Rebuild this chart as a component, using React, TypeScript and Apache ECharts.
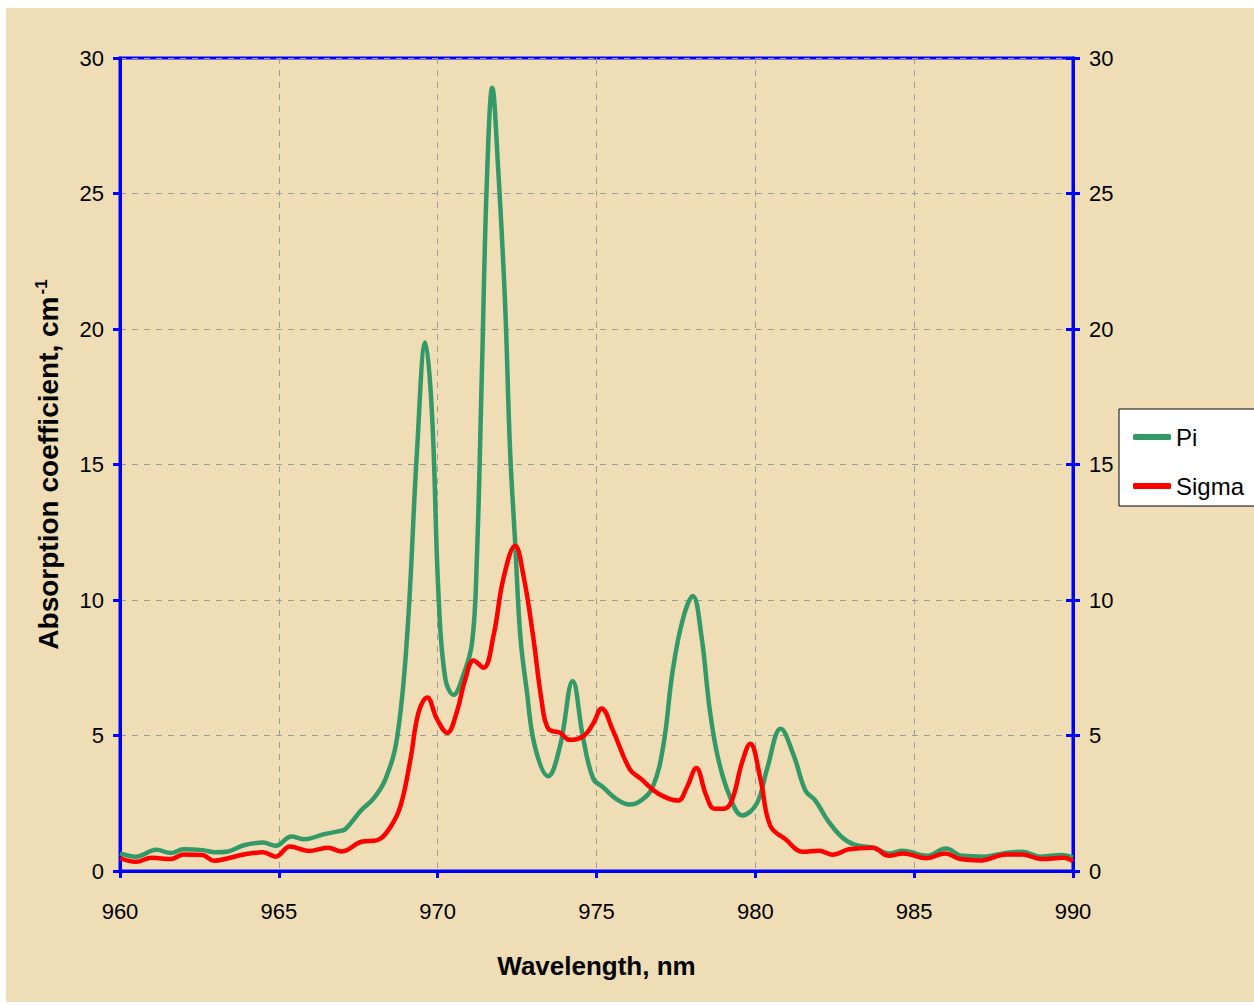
import React, { useEffect, useRef } from "react";
import * as echarts from "echarts";

const piWavelength = [
  960.0, 960.5, 961.15, 961.6, 962.0, 962.6, 963.0, 963.4, 963.9, 964.5, 964.9, 965.4, 965.8, 966.4, 966.9,
  967.1, 967.6, 968.0, 968.36, 968.72, 969.04, 969.35, 969.61, 969.82, 970.03, 970.24, 970.5, 970.8, 971.08,
  971.23, 971.39, 971.55, 971.72, 971.9, 972.12, 972.28, 972.44, 972.6, 972.8, 973.06, 973.48, 973.85, 974.25,
  974.58, 974.9, 975.2, 975.63, 976.05, 976.4, 976.77, 977.1, 977.4, 977.72, 978.03, 978.3, 978.56, 978.82,
  979.18, 979.59, 980.05, 980.37, 980.8, 981.21, 981.58, 981.89, 982.26, 982.68, 983.1, 983.7, 984.2, 984.65,
  985.4, 986.0, 986.5, 987.2, 987.8, 988.4, 989.0, 989.65, 990.0,
];
const piValues = [
  0.65, 0.53, 0.78, 0.66, 0.8, 0.77, 0.69, 0.72, 0.95, 1.05, 0.93, 1.27, 1.17, 1.35, 1.47,
  1.55, 2.25, 2.7, 3.4, 4.9, 8.7, 15.5, 19.5, 16.9, 10.1, 7.1, 6.5, 7.2, 8.4,
  11.4, 18.3, 25.5, 28.9, 26.0, 21.0, 15.5, 12.1, 8.7, 6.7, 4.6, 3.5, 4.6, 7.0,
  4.9, 3.4, 3.1, 2.65, 2.45, 2.6, 3.1, 4.6, 7.4, 9.3, 10.15, 8.7, 6.0, 4.2,
  2.8, 2.05, 2.5, 3.77, 5.25, 4.26, 2.96, 2.6, 1.9, 1.3, 0.98, 0.86, 0.65, 0.75,
  0.56, 0.83, 0.56, 0.53, 0.65, 0.71, 0.53, 0.59, 0.5,
];

const sigmaWavelength = [
  960.0, 960.5, 961.0, 961.6, 962.0, 962.6, 962.96, 963.4, 963.9, 964.5, 964.9, 965.35, 965.93, 966.55, 966.97,
  967.6, 968.1, 968.5, 968.83, 969.14, 969.4, 969.67, 969.98, 970.3, 970.6, 970.87, 971.13, 971.44, 971.76,
  972.07, 972.44, 972.7, 973.0, 973.27, 973.48, 973.85, 974.16, 974.58, 974.9, 975.16, 975.52, 976.05, 976.4,
  976.94, 977.56, 977.85, 978.14, 978.45, 978.71, 979.0, 979.26, 979.58, 979.84, 980.16, 980.47, 980.95, 981.5,
  982.0, 982.45, 982.95, 983.7, 984.2, 984.65, 985.4, 985.97, 986.45, 987.1, 987.9, 988.4, 989.0, 989.7, 990.0,
];
const sigmaValues = [
  0.47, 0.34, 0.49, 0.44, 0.61, 0.59, 0.38, 0.47, 0.61, 0.69, 0.53, 0.9, 0.74, 0.86, 0.72,
  1.08, 1.14, 1.6, 2.4, 4.1, 5.86, 6.4, 5.6, 5.1, 5.86, 7.08, 7.77, 7.5, 8.7,
  10.8, 12.0, 10.9, 8.7, 6.3, 5.25, 5.1, 4.84, 4.97, 5.45, 6.0, 5.18, 3.75, 3.4,
  2.86, 2.6, 3.1, 3.8, 2.8, 2.3, 2.3, 2.6, 4.0, 4.7, 3.4, 1.67, 1.17, 0.71,
  0.75, 0.6, 0.8, 0.86, 0.56, 0.65, 0.47, 0.65, 0.44, 0.39, 0.61, 0.61, 0.44, 0.49, 0.37,
];

const seriesNames = ["Pi", "Sigma"];
const xTitle = "Wavelength, nm";
const yTitle = "Absorption coefficient, cm";

const FONT = "Liberation Sans";
const BLUE = "#0000FF";

export default function App() {
  const ref = useRef<HTMLDivElement>(null);

  useEffect(() => {
    if (!ref.current) return;
    const chart = echarts.init(ref.current, null, { renderer: "svg" });
    const pair = (xs: number[], ys: number[]) => xs.map((x, i) => [x, ys[i]]);

    const yAxisCommon = {
      type: "value",
      min: 0,
      max: 30,
      interval: 5,
      axisLine: { show: true, lineStyle: { color: BLUE, width: 3 } },
      axisTick: { show: true, length: 7, lineStyle: { color: BLUE, width: 3 } },
    };

    chart.setOption({
      animation: false,
      backgroundColor: "#ffffff",
      textStyle: { fontFamily: FONT },
      graphic: [
        {
          type: "rect",
          shape: { x: 6, y: 8, width: 1248, height: 994 },
          style: { fill: "#EEDDB5" },
          z: -10,
        },
      ],
      grid: {
        left: 120,
        right: 181,
        top: 58,
        bottom: 134,
        show: true,
        borderColor: BLUE,
        borderWidth: 3,
        backgroundColor: "transparent",
      },
      legend: {
        orient: "vertical",
        left: 1119,
        top: 409,
        backgroundColor: "#ffffff",
        borderColor: "#000000",
        borderWidth: 1,
        borderRadius: 0,
        padding: [16, 20, 8, 14],
        itemGap: 25,
        itemWidth: 38,
        itemHeight: 6,
        icon: "roundRect",
        textStyle: { fontFamily: FONT, fontSize: 24, color: "#000" },
        data: seriesNames,
      },
      xAxis: {
        type: "value",
        min: 960,
        max: 990,
        interval: 5,
        name: xTitle,
        nameLocation: "middle",
        nameGap: 82,
        nameTextStyle: { fontFamily: FONT, fontSize: 26, fontWeight: "bold", color: "#000" },
        axisLine: { show: true, lineStyle: { color: BLUE, width: 3 } },
        axisTick: { show: true, length: 7, lineStyle: { color: BLUE, width: 3 } },
        axisLabel: { fontFamily: FONT, fontSize: 22, color: "#000", margin: 29 },
        splitLine: { show: true, lineStyle: { color: "#9a9a9a", width: 1, type: [6, 6] } },
      },
      yAxis: [
        {
          ...yAxisCommon,
          position: "left",
          name: yTitle + "{sup|-1}",
          nameLocation: "middle",
          nameGap: 56,
          nameTextStyle: {
            fontFamily: FONT,
            fontSize: 28,
            fontWeight: "bold",
            color: "#000",
            rich: {
              sup: { fontFamily: FONT, fontSize: 17, fontWeight: "bold", color: "#000", verticalAlign: "top", padding: [0, 0, 14, 2] },
            },
          },
          axisLabel: { fontFamily: FONT, fontSize: 22, color: "#000", margin: 16 },
          splitLine: { show: true, lineStyle: { color: "#9a9a9a", width: 1, type: [6, 6] } },
        },
        {
          ...yAxisCommon,
          position: "right",
          axisLabel: { fontFamily: FONT, fontSize: 22, color: "#000", margin: 16 },
          splitLine: { show: false },
        },
        {
          ...yAxisCommon,
          position: "right",
          axisTick: { show: true, inside: true, length: 7, lineStyle: { color: BLUE, width: 3 } },
          axisLabel: { show: false },
          splitLine: { show: false },
        },
      ],
      series: [
        {
          name: seriesNames[0],
          type: "line",
          data: pair(piWavelength, piValues),
          showSymbol: false,
          smooth: 0.4,
          lineStyle: { color: "#339966", width: 4.5 },
          itemStyle: { color: "#339966" },
          z: 3,
        },
        {
          name: seriesNames[1],
          type: "line",
          data: pair(sigmaWavelength, sigmaValues),
          showSymbol: false,
          smooth: 0.4,
          lineStyle: { color: "#FF0000", width: 4.5 },
          itemStyle: { color: "#FF0000" },
          z: 4,
        },
      ],
    });
    return () => chart.dispose();
  }, []);

  return (
    <div
      ref={ref}
      style={{ position: "absolute", left: 0, top: 0, width: 1254, height: 1005 }}
    />
  );
}
